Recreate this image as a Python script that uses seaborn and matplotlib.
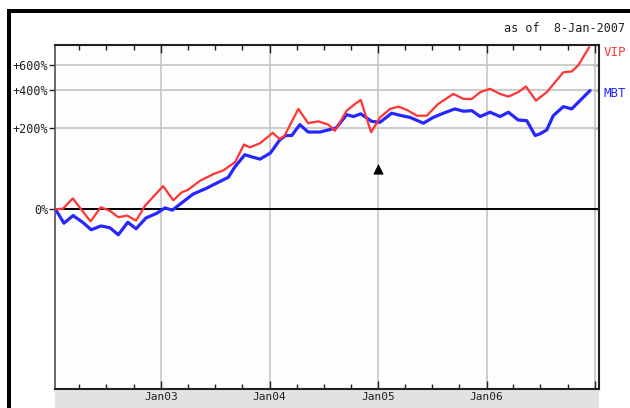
import pandas as pd
import seaborn as sns
import matplotlib.pyplot as plt
from matplotlib.patches import Rectangle
from matplotlib.ticker import FixedLocator, FixedFormatter, NullLocator, NullFormatter

# Cumulative gain (%), two funds
vip_dates = ["2002-01-11", "2002-02-05", "2002-03-10", "2002-04-09", "2002-05-09", "2002-06-12",
             "2002-07-13", "2002-08-10", "2002-09-09", "2002-10-09", "2002-11-08", "2003-01-08",
             "2003-02-11", "2003-03-12", "2003-04-01", "2003-05-12", "2003-06-26", "2003-07-29",
             "2003-09-07", "2003-10-07", "2003-10-27", "2003-11-30", "2004-01-12", "2004-02-03",
             "2004-02-19", "2004-04-07", "2004-05-10", "2004-06-13", "2004-07-17", "2004-08-08",
             "2004-09-17", "2004-10-15", "2004-11-03", "2004-12-08", "2005-01-07", "2005-02-10",
             "2005-03-10", "2005-04-07", "2005-05-11", "2005-06-13", "2005-07-22", "2005-09-11",
             "2005-10-15", "2005-11-12", "2005-12-10", "2006-01-12", "2006-02-15", "2006-03-15",
             "2006-04-17", "2006-05-13", "2006-06-16", "2006-07-22", "2006-09-16", "2006-10-14",
             "2006-11-05", "2006-12-12"]
vip_pct = [0, 1, 16, -1, -15, 3,
           -2, -10, -8, -14, 5, 37,
           13, 26, 30, 47, 61, 69,
           89, 140, 131, 144, 181, 159,
           167, 288, 220, 228, 214, 189,
           279, 315, 338, 183, 246, 288,
           300, 283, 254, 254, 315, 375,
           344, 344, 386, 409, 375, 358,
           386, 425, 334, 386, 536, 543,
           597, 792]

mbt_dates = ["2002-01-11", "2002-02-08", "2002-03-11", "2002-04-12", "2002-05-11", "2002-06-13",
             "2002-07-13", "2002-08-10", "2002-09-11", "2002-10-09", "2002-11-11", "2002-12-18",
             "2003-01-14", "2003-02-08", "2003-03-14", "2003-04-19", "2003-06-03", "2003-07-12",
             "2003-08-15", "2003-09-07", "2003-10-10", "2003-11-07", "2003-11-30", "2004-01-04",
             "2004-02-05", "2004-02-25", "2004-03-16", "2004-04-12", "2004-05-10", "2004-06-19",
             "2004-08-12", "2004-09-17", "2004-10-09", "2004-11-03", "2004-12-10", "2005-01-07",
             "2005-02-15", "2005-03-21", "2005-04-18", "2005-06-02", "2005-07-05", "2005-08-08",
             "2005-09-16", "2005-10-15", "2005-11-12", "2005-12-10", "2006-01-12", "2006-02-15",
             "2006-03-15", "2006-04-17", "2006-05-16", "2006-06-13", "2006-06-29", "2006-07-22",
             "2006-08-13", "2006-09-16", "2006-10-14", "2006-11-11", "2006-12-15"]
mbt_pct = [0, -17, -8, -16, -24, -20,
           -22, -29, -16, -23, -11, -5,
           2, -1, 10, 23, 33, 44,
           54, 78, 109, 102, 97, 114,
           156, 171, 171, 214, 184, 184,
           200, 259, 250, 263, 228, 224,
           266, 254, 246, 220, 246, 266,
           288, 276, 279, 250, 271, 250,
           271, 234, 231, 171, 177, 192,
           254, 300, 288, 334, 397]

y_tick_pct = [0, 200, 400, 600]
y_tick_labels = ["0%", "+200%", "+400%", "+600%"]
x_tick_dates = ["2003-01-01", "2004-01-01", "2005-01-01", "2006-01-01", "2007-01-01"]
x_tick_labels = ["Jan03", "Jan04", "Jan05", "Jan06", ""]
marker_date = "2005-01-01"
marker_pct = 73
as_of = "as of  8-Jan-2007"

vip = pd.DataFrame({"date": pd.to_datetime(vip_dates), "pct": vip_pct})
mbt = pd.DataFrame({"date": pd.to_datetime(mbt_dates), "pct": mbt_pct})
vip["growth"] = 1 + vip["pct"] / 100
mbt["growth"] = 1 + mbt["pct"] / 100

sns.set_theme(style="white")
plt.rcParams["font.family"] = ["DejaVu Sans Mono", "DejaVu Sans"]

red = "#ff3535"
blue = "#2626ff"

fig = plt.figure(figsize=(6.3, 4.08), dpi=100)
ax = fig.add_axes([55 / 630, 19 / 408, 544 / 630, 344 / 408])
ax.set_facecolor("#fdfdfd")

ax.set_yscale("log")
ax.set_ylim(0.0886, 9.19)
ax.set_xlim(pd.Timestamp("2002-01-09"), pd.Timestamp("2007-01-14"))

sns.lineplot(data=mbt, x="date", y="growth", color=blue, linewidth=2.3, ax=ax, zorder=3)
sns.lineplot(data=vip, x="date", y="growth", color=red, linewidth=1.6, ax=ax, zorder=4)

# event marker
sns.scatterplot(x=[pd.Timestamp(marker_date)], y=[1 + marker_pct / 100], marker="^",
                color="black", s=45, edgecolor="black", ax=ax, zorder=5)

# y axis
y_ticks = [1 + p / 100 for p in y_tick_pct]
ax.yaxis.set_major_locator(FixedLocator(y_ticks))
ax.yaxis.set_major_formatter(FixedFormatter(y_tick_labels))
ax.yaxis.set_minor_locator(NullLocator())
ax.yaxis.set_minor_formatter(NullFormatter())
ax.tick_params(axis="y", direction="out", length=4, width=1, pad=1, labelsize=8.5,
               colors="#202020", left=True)
sec = ax.secondary_yaxis("right")
sec.set_yticks(y_ticks)
sec.set_yticklabels([])
sec.yaxis.set_minor_locator(NullLocator())
sec.tick_params(axis="y", direction="in", length=4, width=1, colors="#202020")
sec.spines["right"].set_color("#303030")

# x axis
x_ticks = pd.to_datetime(x_tick_dates)
ax.set_xticks(x_ticks)
ax.set_xticklabels(x_tick_labels)
quarter_ticks = pd.date_range("2002-04-01", "2006-12-31", freq="QS")
ax.set_xticks(quarter_ticks, minor=True)
ax.tick_params(axis="x", which="major", direction="in", length=6, width=1, top=True,
               bottom=True, pad=2.5, labelsize=8, colors="#202020")
ax.tick_params(axis="x", which="minor", direction="in", length=3.5, width=1, top=True,
               bottom=True, colors="#202020")

ax.grid(True, which="major", color="#c4c4c4", linewidth=1.2)
ax.axhline(1, color="black", linewidth=1.4, zorder=2)
ax.set_xlabel("")
ax.set_ylabel("")

for side in ["top", "bottom", "right"]:
    ax.spines[side].set_color("#202020")
    ax.spines[side].set_linewidth(1.5)
ax.spines["left"].set_color("#505050")
ax.spines["left"].set_linewidth(1.2)

# end labels
ax.annotate("VIP", xy=(1.0, vip["growth"].iloc[-1]), xycoords=("axes fraction", "data"),
            xytext=(3, -4), textcoords="offset points", va="center", ha="left",
            color=red, fontsize=9, annotation_clip=False)
ax.annotate("MBT", xy=(1.0, mbt["growth"].iloc[-1]), xycoords=("axes fraction", "data"),
            xytext=(3, -2), textcoords="offset points", va="center", ha="left",
            color=blue, fontsize=9, annotation_clip=False)

fig.text(625 / 630, 1 - 29 / 408, as_of, ha="right", va="center", fontsize=8.5, color="#202020")

# grey date band under the plot and the heavy black frame
fig.add_artist(Rectangle((55 / 630, 0), 544 / 630, 19 / 408, transform=fig.transFigure,
                         facecolor="#e2e2e2", edgecolor="none", zorder=-1))
fig.add_artist(Rectangle((7 / 630, 0), 4 / 630, 399 / 408, transform=fig.transFigure,
                         facecolor="black", edgecolor="none", zorder=10))
fig.add_artist(Rectangle((7 / 630, 395 / 408), 623 / 630, 4 / 408, transform=fig.transFigure,
                         facecolor="black", edgecolor="none", zorder=10))

fig.savefig("out.png", dpi=100)
